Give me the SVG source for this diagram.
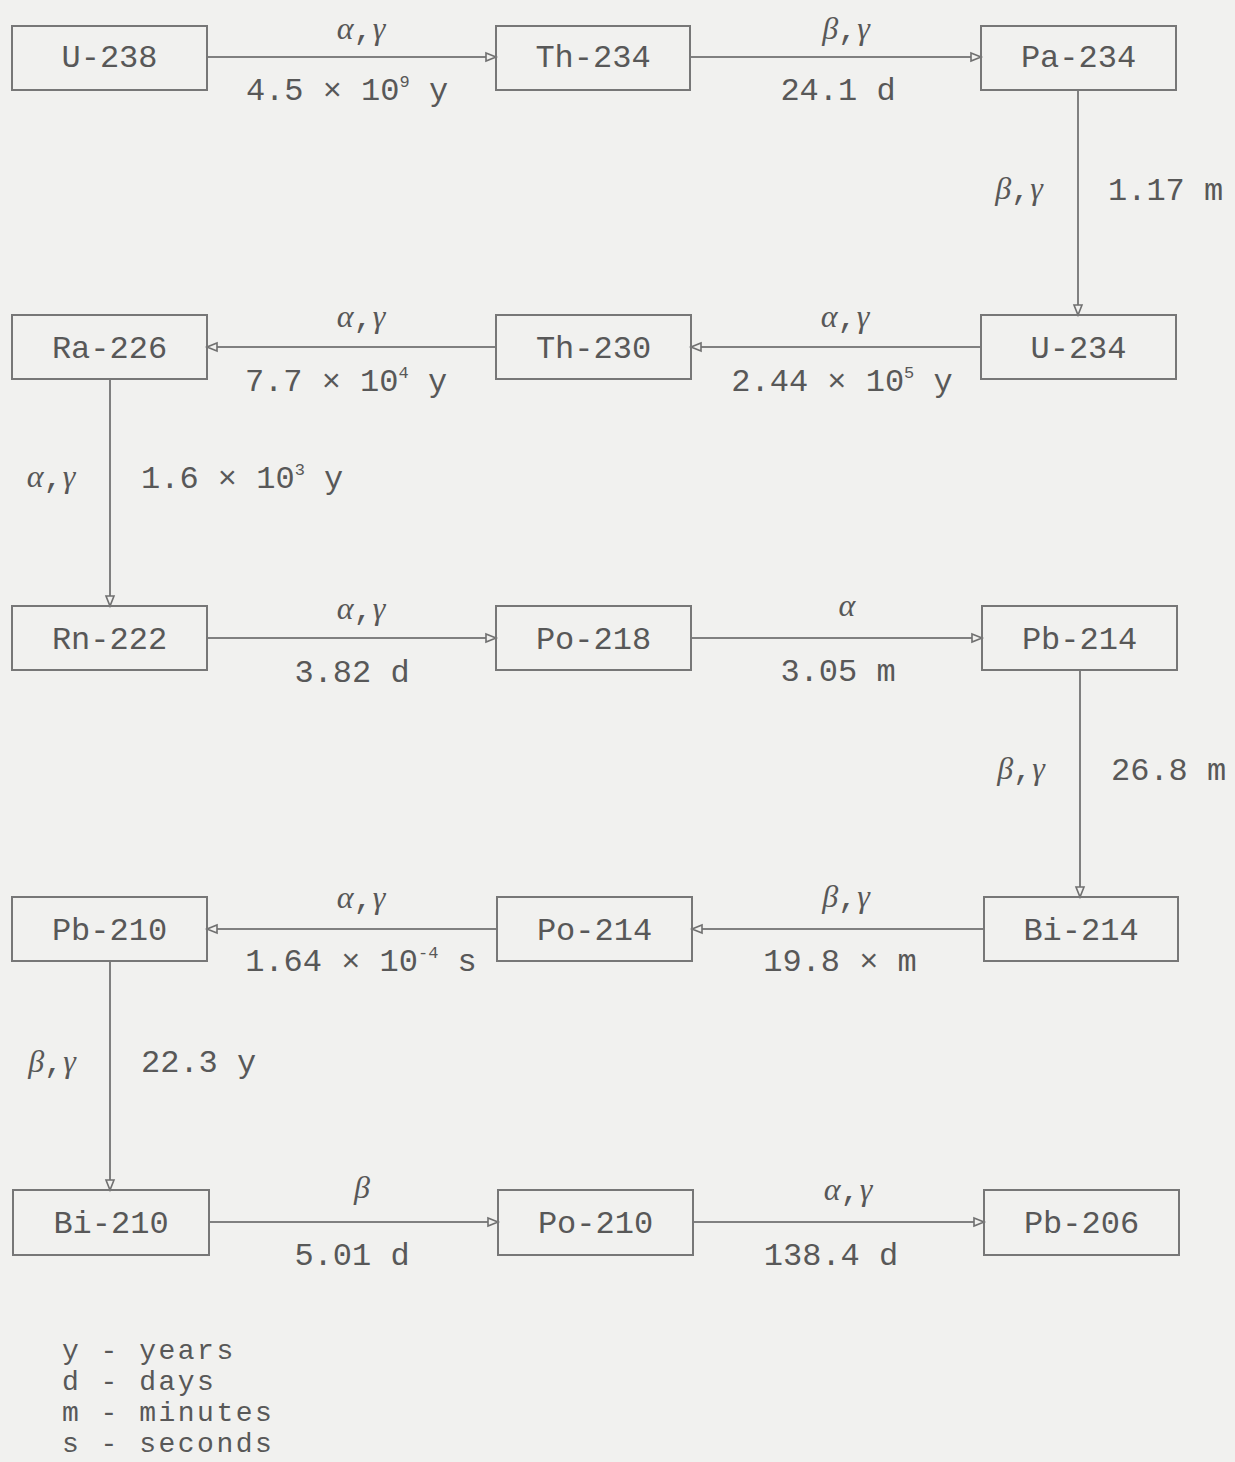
<svg xmlns="http://www.w3.org/2000/svg" width="1235" height="1462" viewBox="0 0 1235 1462">
<defs>
<style>
.bg{fill:#f1f1ef}
.box{fill:none;stroke:#777;stroke-width:2}
.t{font-family:"Liberation Mono","Courier New",monospace;font-size:32px;fill:#585858}
.m{text-anchor:middle}
.g{font-family:"Liberation Serif","Times New Roman",serif;font-style:italic}
.sup{font-size:17px}
.lg{font-size:28px;letter-spacing:2.5px}
.ln{stroke:#808080;stroke-width:2;fill:none;marker-end:url(#ah)}
</style>
<marker id="ah" markerUnits="userSpaceOnUse" markerWidth="14" markerHeight="12" refX="11" refY="5" orient="auto" viewBox="0 0 14 10">
<path d="M1,1 L11,5 L1,9 Z" fill="#f1f1ef" stroke="#707070" stroke-width="1.6"/>
</marker>
</defs>
<rect class="bg" x="0" y="0" width="1235" height="1462"/>

<g id="connectors">
<line class="ln" x1="207" y1="57" x2="496" y2="57"/>
<line class="ln" x1="690" y1="57" x2="981" y2="57"/>
<line class="ln" x1="1078" y1="90" x2="1078" y2="315"/>
<line class="ln" x1="981" y1="347" x2="691" y2="347"/>
<line class="ln" x1="496" y1="347" x2="207" y2="347"/>
<line class="ln" x1="110" y1="379" x2="110" y2="606"/>
<line class="ln" x1="207" y1="638" x2="496" y2="638"/>
<line class="ln" x1="691" y1="638" x2="982" y2="638"/>
<line class="ln" x1="1080" y1="670" x2="1080" y2="897"/>
<line class="ln" x1="984" y1="929" x2="692" y2="929"/>
<line class="ln" x1="496" y1="929" x2="207" y2="929"/>
<line class="ln" x1="110" y1="961" x2="110" y2="1190"/>
<line class="ln" x1="209" y1="1222" x2="498" y2="1222"/>
<line class="ln" x1="693" y1="1222" x2="984" y2="1222"/>

<!-- row 1 labels -->
<text class="t m" x="361" y="39"><tspan class="g">α</tspan>,<tspan class="g">γ</tspan></text>
<text class="t m" x="347" y="100">4.5 × 10<tspan class="sup" dy="-13">9</tspan><tspan dy="13"> y</tspan></text>
<text class="t m" x="846" y="39"><tspan class="g">β</tspan>,<tspan class="g">γ</tspan></text>
<text class="t m" x="838" y="100">24.1 d</text>
<!-- Pa-234 to U-234 -->
<text class="t m" x="1019" y="199"><tspan class="g">β</tspan>,<tspan class="g">γ</tspan></text>
<text class="t" x="1108" y="200">1.17 m</text>
<!-- row 2 labels -->
<text class="t m" x="845" y="327"><tspan class="g">α</tspan>,<tspan class="g">γ</tspan></text>
<text class="t m" x="842" y="391">2.44 × 10<tspan class="sup" dy="-13">5</tspan><tspan dy="13"> y</tspan></text>
<text class="t m" x="361" y="327"><tspan class="g">α</tspan>,<tspan class="g">γ</tspan></text>
<text class="t m" x="346" y="391">7.7 × 10<tspan class="sup" dy="-13">4</tspan><tspan dy="13"> y</tspan></text>
<!-- Ra-226 to Rn-222 -->
<text class="t m" x="51" y="487"><tspan class="g">α</tspan>,<tspan class="g">γ</tspan></text>
<text class="t" x="141" y="488">1.6 × 10<tspan class="sup" dy="-13">3</tspan><tspan dy="13"> y</tspan></text>
<!-- row 3 labels -->
<text class="t m" x="361" y="619"><tspan class="g">α</tspan>,<tspan class="g">γ</tspan></text>
<text class="t m" x="352" y="682">3.82 d</text>
<text class="t m" x="847" y="616"><tspan class="g">α</tspan></text>
<text class="t m" x="838" y="681">3.05 m</text>
<!-- Pb-214 to Bi-214 -->
<text class="t m" x="1021" y="779"><tspan class="g">β</tspan>,<tspan class="g">γ</tspan></text>
<text class="t" x="1111" y="780">26.8 m</text>
<!-- row 4 labels -->
<text class="t m" x="846" y="907"><tspan class="g">β</tspan>,<tspan class="g">γ</tspan></text>
<text class="t m" x="840" y="971">19.8 × m</text>
<text class="t m" x="361" y="908"><tspan class="g">α</tspan>,<tspan class="g">γ</tspan></text>
<text class="t m" x="361" y="971">1.64 × 10<tspan class="sup" dy="-13">-4</tspan><tspan dy="13"> s</tspan></text>
<!-- Pb-210 to Bi-210 -->
<text class="t m" x="52" y="1072"><tspan class="g">β</tspan>,<tspan class="g">γ</tspan></text>
<text class="t" x="141" y="1072">22.3 y</text>
<!-- row 5 labels -->
<text class="t m" x="362" y="1198"><tspan class="g">β</tspan></text>
<text class="t m" x="352" y="1265">5.01 d</text>
<text class="t m" x="848" y="1200"><tspan class="g">α</tspan>,<tspan class="g">γ</tspan></text>
<text class="t m" x="831" y="1265">138.4 d</text>
</g>

<g id="U-238"><rect class="box" x="12" y="26" width="195" height="64"/><text class="t m" x="109.5" y="67">U-238</text></g>
<g id="Th-234"><rect class="box" x="496" y="26" width="194" height="64"/><text class="t m" x="593" y="67">Th-234</text></g>
<g id="Pa-234"><rect class="box" x="981" y="26" width="195" height="64"/><text class="t m" x="1078.5" y="67">Pa-234</text></g>

<g id="Ra-226"><rect class="box" x="12" y="315" width="195" height="64"/><text class="t m" x="109.5" y="358">Ra-226</text></g>
<g id="Th-230"><rect class="box" x="496" y="315" width="195" height="64"/><text class="t m" x="593.5" y="358">Th-230</text></g>
<g id="U-234"><rect class="box" x="981" y="315" width="195" height="64"/><text class="t m" x="1078.5" y="358">U-234</text></g>

<g id="Rn-222"><rect class="box" x="12" y="606" width="195" height="64"/><text class="t m" x="109.5" y="649">Rn-222</text></g>
<g id="Po-218"><rect class="box" x="496" y="606" width="195" height="64"/><text class="t m" x="593.5" y="649">Po-218</text></g>
<g id="Pb-214"><rect class="box" x="982" y="606" width="195" height="64"/><text class="t m" x="1079.5" y="649">Pb-214</text></g>

<g id="Pb-210"><rect class="box" x="12" y="897" width="195" height="64"/><text class="t m" x="109.5" y="940">Pb-210</text></g>
<g id="Po-214"><rect class="box" x="497" y="897" width="195" height="64"/><text class="t m" x="594.5" y="940">Po-214</text></g>
<g id="Bi-214"><rect class="box" x="984" y="897" width="194" height="64"/><text class="t m" x="1081" y="940">Bi-214</text></g>

<g id="Bi-210"><rect class="box" x="13" y="1190" width="196" height="65"/><text class="t m" x="111" y="1233">Bi-210</text></g>
<g id="Po-210"><rect class="box" x="498" y="1190" width="195" height="65"/><text class="t m" x="595.5" y="1233">Po-210</text></g>
<g id="Pb-206"><rect class="box" x="984" y="1190" width="195" height="65"/><text class="t m" x="1081.5" y="1233">Pb-206</text></g>

<g id="legend">
<text class="t lg" x="62" y="1359">y - years</text>
<text class="t lg" x="62" y="1390">d - days</text>
<text class="t lg" x="62" y="1421">m - minutes</text>
<text class="t lg" x="62" y="1452">s - seconds</text>
</g>
</svg>
